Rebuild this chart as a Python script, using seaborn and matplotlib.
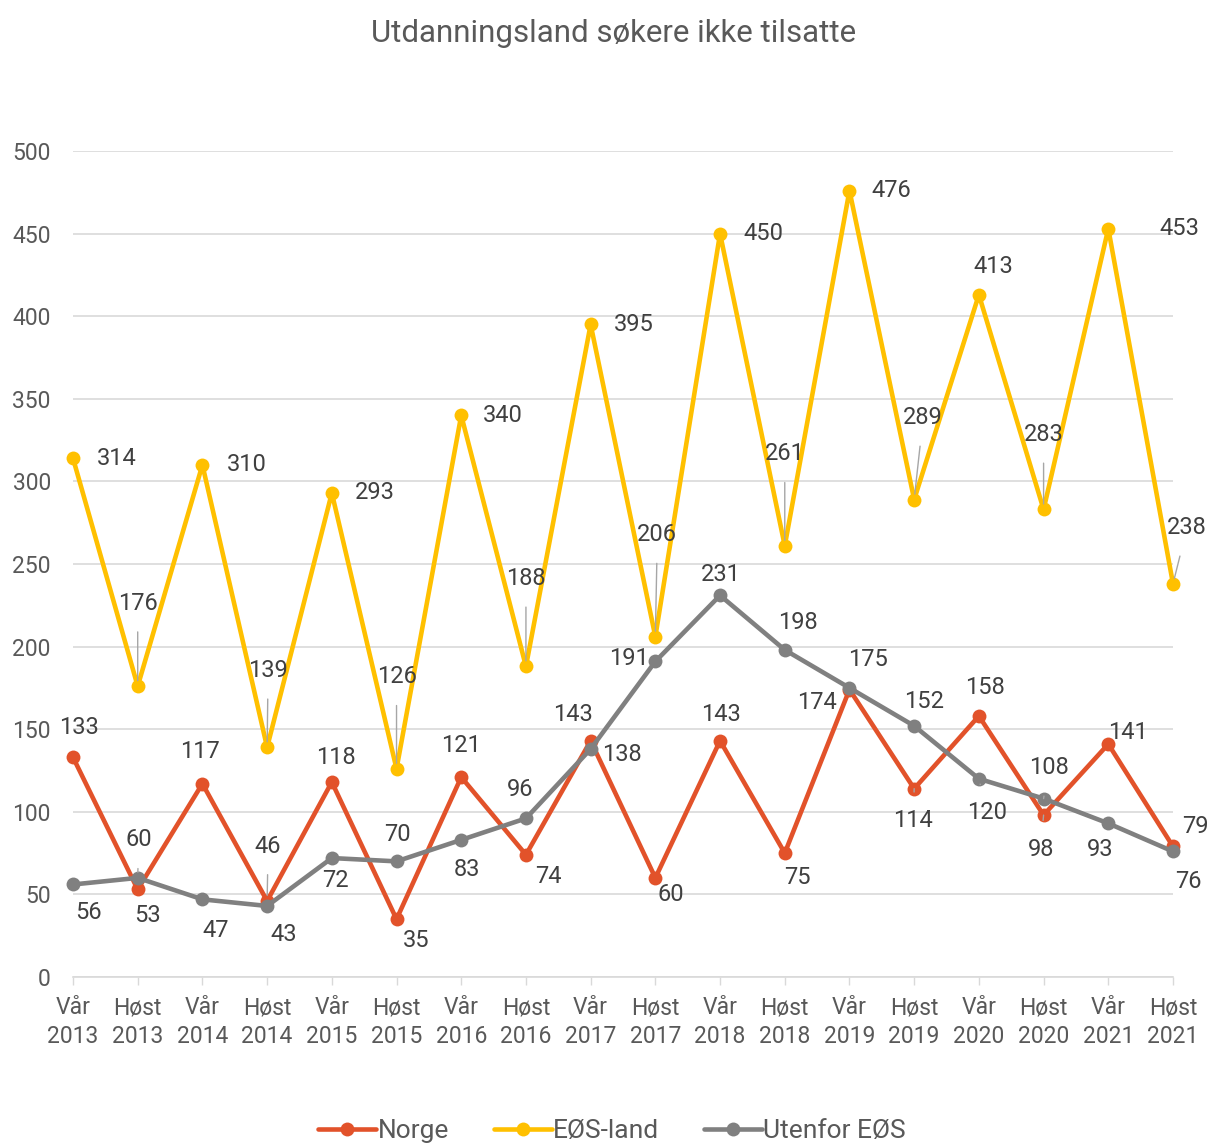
import matplotlib
matplotlib.use("Agg")
import matplotlib.pyplot as plt
import seaborn as sns
import pandas as pd
from matplotlib.lines import Line2D

sns.set_theme(style="white")
plt.rcParams["font.family"] = ["Roboto", "DejaVu Sans"]

# ---- data ----
periods = ["Vår\n2013", "Høst\n2013", "Vår\n2014", "Høst\n2014", "Vår\n2015", "Høst\n2015",
           "Vår\n2016", "Høst\n2016", "Vår\n2017", "Høst\n2017", "Vår\n2018", "Høst\n2018",
           "Vår\n2019", "Høst\n2019", "Vår\n2020", "Høst\n2020", "Vår\n2021", "Høst\n2021"]
norge = [133, 53, 117, 46, 118, 35, 121, 74, 143, 60, 143, 75, 174, 114, 158, 98, 141, 79]
eos_land = [314, 176, 310, 139, 293, 126, 340, 188, 395, 206, 450, 261, 476, 289, 413, 283, 453, 238]
utenfor_eos = [56, 60, 47, 43, 72, 70, 83, 96, 138, 191, 231, 198, 175, 152, 120, 108, 93, 76]

series_names = ["Norge", "EØS-land", "Utenfor EØS"]
colors = {"Norge": "#E2522A", "EØS-land": "#FFC000", "Utenfor EØS": "#808080"}

# label offsets in pixels (dx, dy) relative to the point, and which get a leader line
offsets = {
    "Norge": [(6, 30), (10, -26), (-2, 32), (1, 55), (4, 25), (20, -21), (0, 32), (22, -22),
              (-18, 26), (15, -17), (1, 26), (13, -24), (-33, -13), (-1, -32), (6, 28),
              (-3, -34), (20, 12), (22, 20)],
    "EØS-land": [(44, 0), (0, 83), (44, 0), (1, 77), (43, 0), (0, 92), (42, 0), (0, 88),
                 (43, 0), (2, 102), (43, 0), (0, 92), (42, 0), (9, 82), (14, 28), (0, 75),
                 (71, 0), (14, 56)],
    "Utenfor EØS": [(15, -28), (1, 38), (13, -31), (17, -29), (4, -22), (1, 27), (6, -30),
                    (-6, 29), (31, -5), (-26, 3), (1, 21), (13, 27), (19, 28), (10, 24),
                    (8, -34), (5, 31), (-8, -26), (15, -30)],
}
leaders = {
    "Norge": [3, 13, 15],
    "EØS-land": [1, 3, 5, 7, 9, 11, 13, 15, 17],
    "Utenfor EØS": [1, 14, 15],
}

df = pd.DataFrame({
    "idx": list(range(len(periods))) * 3,
    "value": norge + eos_land + utenfor_eos,
    "serie": sum([[n] * len(periods) for n in series_names], []),
})

fig = plt.figure(figsize=(12.10, 11.46), dpi=100)
ax = fig.add_axes([73 / 1210, 1 - 977 / 1146, 1100 / 1210, 826 / 1146])

for i, name in enumerate(series_names):
    sub = df[df["serie"] == name]
    sns.lineplot(data=sub, x="idx", y="value", ax=ax, color=colors[name],
                 linewidth=3.3, marker="o", markersize=10, markeredgewidth=0,
                 zorder=2 + i, legend=False)

# data labels
for name in series_names:
    sub = df[df["serie"] == name].reset_index(drop=True)
    for j, row in sub.iterrows():
        dx, dy = offsets[name][j]
        arrow = None
        if j in leaders[name]:
            arrow = dict(arrowstyle="-", color="#a6a6a6", lw=1.0, shrinkA=10, shrinkB=4)
        ax.annotate(str(row["value"]), xy=(row["idx"], row["value"]),
                    xytext=(dx, dy), textcoords="offset pixels",
                    ha="center", va="center", fontsize=17, color="#404040",
                    arrowprops=arrow, zorder=10)

ax.set_xlim(0, len(periods) - 1)
ax.set_ylim(0, 500)
ax.set_yticks(range(0, 501, 50))
ax.set_xticks(range(len(periods)))
ax.set_xticklabels(periods, fontsize=16.5, color="#595959", linespacing=1.3)
ax.tick_params(axis="y", labelsize=16.5, labelcolor="#595959", length=0, pad=16)
ax.tick_params(axis="x", length=6, width=1, color="#d9d9d9", pad=8, bottom=True)
ax.set_xlabel("")
ax.set_ylabel("")
ax.grid(axis="y", color="#d9d9d9", linewidth=1.2)
ax.set_axisbelow(True)
for side in ["top", "right", "left"]:
    ax.spines[side].set_visible(False)
ax.spines["bottom"].set_color("#d9d9d9")
ax.spines["bottom"].set_linewidth(1.2)
for ln in ax.lines:
    ln.set_clip_on(False)

fig.text(614 / 1210, 1 - 33 / 1146, "Utdanningsland søkere ikke tilsatte", ha="center",
         va="center", fontsize=22.5, color="#595959")

handles = [Line2D([0], [0], color=colors[n], lw=3.3, marker="o", markersize=10,
                  markeredgewidth=0) for n in series_names]
fig.legend(handles, series_names, loc="center", bbox_to_anchor=(612 / 1210, 1 - 1131 / 1146),
           ncol=3, frameon=False, fontsize=19, handlelength=2.2, handletextpad=0.05,
           columnspacing=1.7, labelcolor="#595959")

fig.savefig("out.png", dpi=100)
